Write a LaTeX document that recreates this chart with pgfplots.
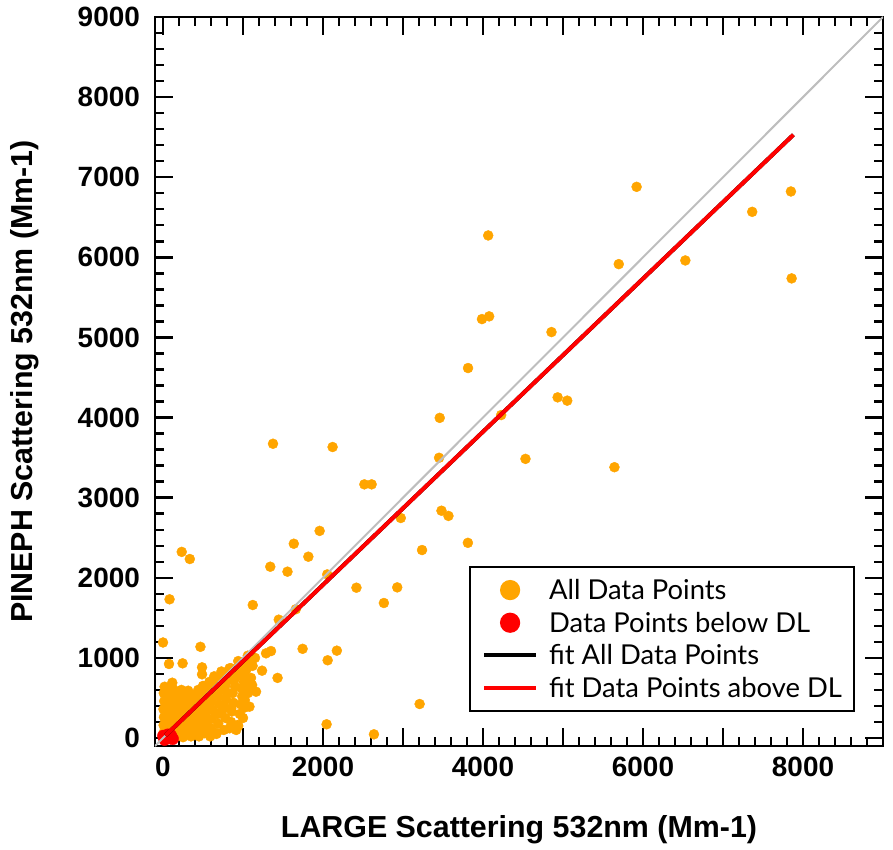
\documentclass[border=0pt]{standalone}
\usepackage{fontspec}
\setmainfont{Liberation Sans}
\newfontfamily\legfont{Lato}
\usepackage{pgfplots}
\pgfplotsset{compat=1.18}
\definecolor{dotorange}{RGB}{255,165,0}
\definecolor{oneline}{RGB}{190,190,190}
\definecolor{fitred}{RGB}{255,0,0}
\pgfplotsset{
  legdot/.style={legend image code/.code={\draw[##1, mark size=9bp] plot coordinates {(26bp,0bp)};}},
  legline/.style={legend image code/.code={\draw[##1] (0bp,0bp) -- (52bp,0bp);}},
}
\begin{document}
\begin{tikzpicture}
\begin{axis}[
  name=ax,
  scale only axis, width=728bp, height=729bp,
  xmin=-100, xmax=9000, ymin=-100, ymax=9000,
  clip marker paths=true,
  axis line style={line width=2.8bp},
  tick style={line width=2.4bp, black},
  major tick length=18bp, minor tick length=9bp,
  tick align=inside,
  xtick={0,1000,...,9000},
  xticklabels={0,,2000,,4000,,6000,,8000,},
  ytick={0,1000,...,9000},
  minor tick num=4,
  tick label style={font=\bfseries\fontsize{28}{28}\selectfont},
  /pgf/number format/assume math mode=true,
  /pgf/number format/set thousands separator={},
  yticklabel style={inner sep=0pt, xshift=-15bp},
  xticklabel style={inner sep=0pt, yshift=-11bp},
  xlabel={LARGE Scattering 532nm (Mm-1)},
  ylabel={PINEPH Scattering 532nm (Mm-1)},
  label style={font=\bfseries\fontsize{30.5}{30.5}\selectfont},
  xlabel style={at={(axis description cs:0.5,-0.1152)}, anchor=center},
  ylabel style={at={(axis description cs:-0.1786,0.5)}, anchor=center},
  legend style={at={(axis description cs:0.9615,0.0466)}, anchor=south east,
    draw=black, line width=2.2bp, inner xsep=12bp, inner ysep=12bp,
    font=\legfont\fontsize{27.5}{27.5}\selectfont, row sep=11bp,
    nodes={inner sep=0pt},
    /tikz/every odd column/.append style={column sep=11bp}},
  legend cell align=left,
]
% All data points
\addplot[only marks, mark=*, mark size=5bp, color=dotorange, legdot]
coordinates {
(5,60)(8,160)(12,260)(6,360)(15,460)(10,560)(20,640)
(50,20)(55,110)(48,210)(60,310)(52,410)(65,510)(58,600)
(100,60)(105,150)(95,250)(110,340)(100,440)(115,540)(120,620)
(150,10)(155,100)(160,200)(145,290)(165,390)(150,490)(170,580)
(200,50)(210,140)(195,240)(215,330)(205,430)(220,520)(230,600)
(250,10)(260,90)(245,190)(265,280)(255,380)(270,470)(280,560)
(300,60)(310,150)(295,240)(320,330)(305,420)(330,510)(315,590)
(350,20)(360,110)(345,200)(370,290)(355,380)(380,460)(365,540)
(400,70)(410,160)(395,250)(420,340)(405,430)(430,520)(440,600)
(450,20)(470,120)(460,220)(480,320)(455,420)(490,500)(475,580)(500,650)
(520,60)(540,170)(530,280)(550,380)(525,470)(560,550)(545,640)(580,700)
(590,20)(600,120)(610,240)(620,350)(600,450)(630,520)(615,610)(650,700)(640,770)
(670,60)(690,180)(680,300)(700,420)(690,520)(720,600)(710,680)(740,760)(730,830)
(760,100)(780,250)(770,380)(790,480)(800,560)(780,650)(820,720)(810,800)(850,870)
(850,200)(860,330)(880,440)(870,560)(900,640)(890,720)(920,800)(950,880)(940,960)
(940,150)(960,300)(970,420)(990,520)(980,620)(1010,700)(1000,780)(1040,850)(1050,940)
(1020,380)(1060,560)(1080,660)(1100,750)(1120,900)(1150,1000)
(667,50)(832,121)(935,162)(1022,474)(1163,578)(1114,661)(1238,840)(1432,750)
(1288,1057)(1350,1085)(1060,1027)(1102,911)(832,870)(956,786)(853,371)(770,371)
(708,308)(584,433)(460,515)(232,558)(500,141)(356,59)(1081,391)(1000,250)(915,100)
(0,1192)(468,1138)(75,924)(245,932)(488,882)(488,795)(116,690)
(5920,6880)(7849,6822)(7365,6568)(4065,6273)(6529,5961)(5697,5915)(7858,5737)
(3987,5229)(4077,5263)(4856,5067)(3813,4618)(4933,4252)(5053,4211)(4227,4031)
(3459,3996)(1375,3673)(2120,3632)(3451,3498)(4531,3484)(5643,3380)(2517,3166)
(2608,3166)(3481,2837)(3568,2772)(2972,2746)(1958,2585)(3811,2436)(1635,2425)
(3238,2346)(234,2323)(335,2234)(1817,2263)(1556,2076)(1341,2138)(2053,2042)
(2418,1876)(2928,1880)(2761,1685)(82,1731)(1122,1660)(1660,1607)(1447,1477)
(1745,1113)(2173,1090)(2058,970)(3208,424)(2045,171)(2637,46)
};
\addlegendentry{All Data Points}
% below DL
\addplot[only marks, mark=*, mark size=6bp, color=fitred, legdot]
coordinates {(5,25)(30,5)(55,20)(80,0)(105,10)(120,-10)(20,-20)(60,40)(95,35)};
\addlegendentry{Data Points below DL}
% 1:1 line
\addplot[color=oneline, line width=2bp, forget plot] coordinates {(-100,-100) (9000,9000)};
% fits
\addplot[black, line width=4bp, legline] coordinates {(30,30) (7880,7530)};
\addlegendentry{fit All Data Points}
\addplot[fitred, line width=4bp, legline] coordinates {(30,30) (7880,7530)};
\addlegendentry{fit Data Points above DL}
\end{axis}
\pgfresetboundingbox
\path[use as bounding box] ([xshift=-155bp,yshift=-104bp]ax.south west) rectangle ([xshift=10bp,yshift=17bp]ax.north east);
\end{tikzpicture}
\end{document}
